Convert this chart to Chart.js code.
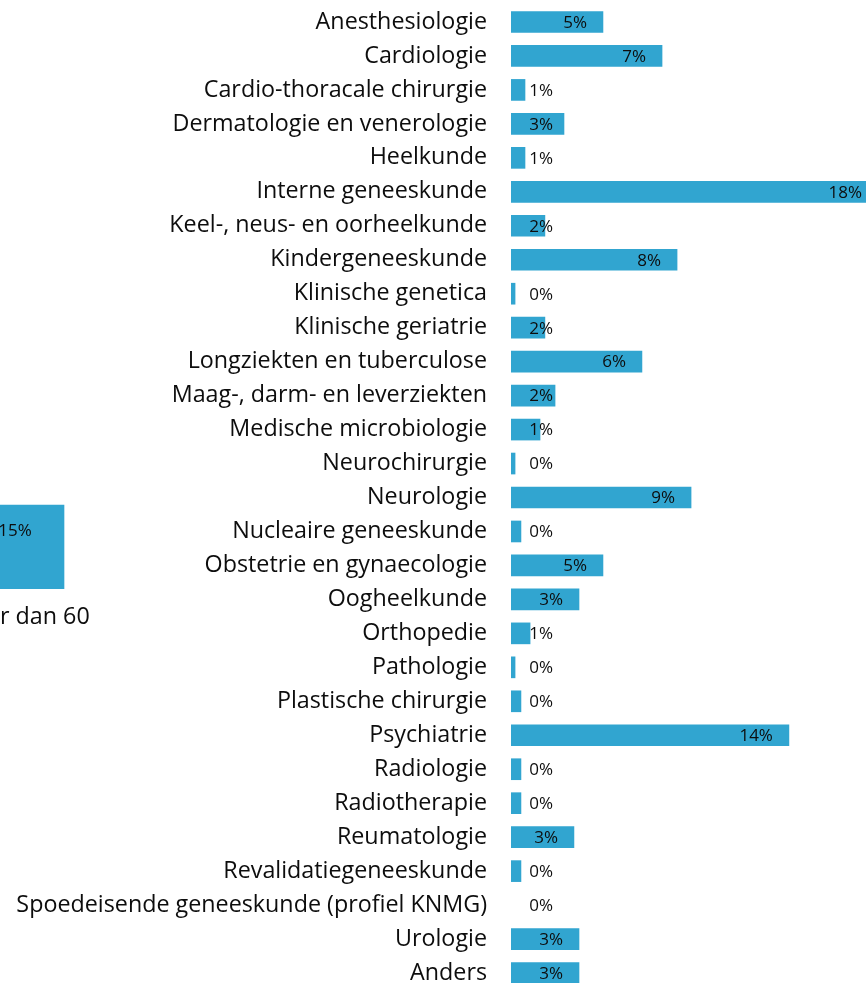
<!DOCTYPE html>
<html lang="nl">
<head>
<meta charset="utf-8">
<title>Specialismen</title>
<script src="https://cdn.jsdelivr.net/npm/chart.js@4.4.1/dist/chart.umd.min.js"></script>
<style>
    html, body { margin: 0; padding: 0; background: #fff; overflow: hidden; width: 866px; height: 983px; }
    canvas { position: absolute; display: block; }
    #leeftijd-canvas { left: -135px; top: 470px; }
    #spec-canvas { left: 0; top: 0; }
</style>
</head>
<body>
<canvas id="leeftijd-canvas" width="300" height="170"></canvas>
<canvas id="spec-canvas" width="917" height="990"></canvas>
<script>
// Aandeel per specialisme (in %)
const specialismen = [
    'Anesthesiologie',
    'Cardiologie',
    'Cardio-thoracale chirurgie',
    'Dermatologie en venerologie',
    'Heelkunde',
    'Interne geneeskunde',
    'Keel-, neus- en oorheelkunde',
    'Kindergeneeskunde',
    'Klinische genetica',
    'Klinische geriatrie',
    'Longziekten en tuberculose',
    'Maag-, darm- en leverziekten',
    'Medische microbiologie',
    'Neurochirurgie',
    'Neurologie',
    'Nucleaire geneeskunde',
    'Obstetrie en gynaecologie',
    'Oogheelkunde',
    'Orthopedie',
    'Pathologie',
    'Plastische chirurgie',
    'Psychiatrie',
    'Radiologie',
    'Radiotherapie',
    'Reumatologie',
    'Revalidatiegeneeskunde',
    'Spoedeisende geneeskunde (profiel KNMG)',
    'Urologie',
    'Anders',
];
const aandeel = [
    4.53, 7.44, 0.69, 2.61, 0.69, 18.08, 1.67, 8.18, 0.2, 1.67,
    6.45, 2.17, 1.43, 0.2, 8.87, 0.49, 4.53, 3.35, 0.94, 0.2,
    0.49, 13.69, 0.49, 0.49, 3.1, 0.49, 0, 3.35, 3.35,
];

// Leeftijdsgroep (alleen de laatste kolom staat in beeld)
const leeftijdGroepen = ['Ouder dan 60'];
const leeftijdAandeel = [15];

const BAR_COLOR = '#31a5d0';
const TEXT_COLOR = '#0d0d0d';
const FONT = "'Open Sans', 'Noto Sans', sans-serif";

// Percentage bij elke balk, afgerond op hele procenten
const waardeLabels = {
    id: 'waardeLabels',
    afterDatasetsDraw(chart, args, opts) {
        const ctx = chart.ctx;
        const values = chart.data.datasets[0].data;
        const horizontal = chart.options.indexAxis === 'y';
        ctx.save();
        ctx.font = opts.size + 'px ' + FONT;
        ctx.fillStyle = TEXT_COLOR;
        ctx.textBaseline = 'middle';
        chart.getDatasetMeta(0).data.forEach((bar, i) => {
            const text = Math.round(values[i]) + '%';
            if (horizontal) {
                ctx.textAlign = 'right';
                const x = Math.max(bar.x - opts.inset, bar.base + opts.minOffset);
                ctx.fillText(text, x, bar.y + 1);
            } else {
                ctx.textAlign = 'center';
                ctx.fillText(text, bar.x, bar.y + opts.inset);
            }
        });
        ctx.restore();
    }
};

new Chart(document.getElementById('spec-canvas'), {
    type: 'bar',
    data: {
        labels: specialismen,
        datasets: [{
            data: aandeel,
            // lege balk (0) helemaal niet tekenen, anders blijft er een haarlijn staan
            backgroundColor: c => (c.raw > 0 ? BAR_COLOR : 'rgba(0,0,0,0)'),
            borderWidth: 0,
            barThickness: 21,
        }]
    },
    plugins: [waardeLabels],
    options: {
        indexAxis: 'y',
        responsive: false,
        animation: false,
        layout: { padding: { top: 5, bottom: 0, left: 0, right: 0 } },
        plugins: {
            legend: { display: false },
            tooltip: { enabled: false },
            waardeLabels: { size: 17, inset: 16, minOffset: 42 },
        },
        scales: {
            x: {
                display: false,
                min: 0,
                max: 20,
            },
            y: {
                // vaste breedte voor de labelkolom, geen extra ruimte boven/onder
                afterFit: scale => {
                    scale.width = 511;
                    scale.paddingTop = 0;
                    scale.paddingBottom = 0;
                },
                grid: { display: false, drawTicks: false },
                border: { display: false },
                ticks: {
                    color: TEXT_COLOR,
                    font: { size: 23.3, family: FONT },
                    padding: 24,
                    autoSkip: false,
                },
            }
        }
    }
});

new Chart(document.getElementById('leeftijd-canvas'), {
    type: 'bar',
    data: {
        labels: leeftijdGroepen,
        datasets: [{
            data: leeftijdAandeel,
            backgroundColor: BAR_COLOR,
            borderWidth: 0,
            barThickness: 98,
        }]
    },
    plugins: [waardeLabels],
    options: {
        responsive: false,
        animation: false,
        layout: { padding: { top: 7, bottom: 0, left: 0, right: 0 } },
        plugins: {
            legend: { display: false },
            tooltip: { enabled: false },
            waardeLabels: { size: 17, inset: 26 },
        },
        scales: {
            y: {
                display: false,
                min: 0,
                max: 20,
            },
            x: {
                afterFit: scale => { scale.height = 51; },
                grid: { display: false, drawTicks: false },
                border: { display: false },
                ticks: {
                    color: TEXT_COLOR,
                    font: { size: 23.3, family: FONT },
                    padding: 14,
                    maxRotation: 0,
                },
            }
        }
    }
});
</script>
</body>
</html>
